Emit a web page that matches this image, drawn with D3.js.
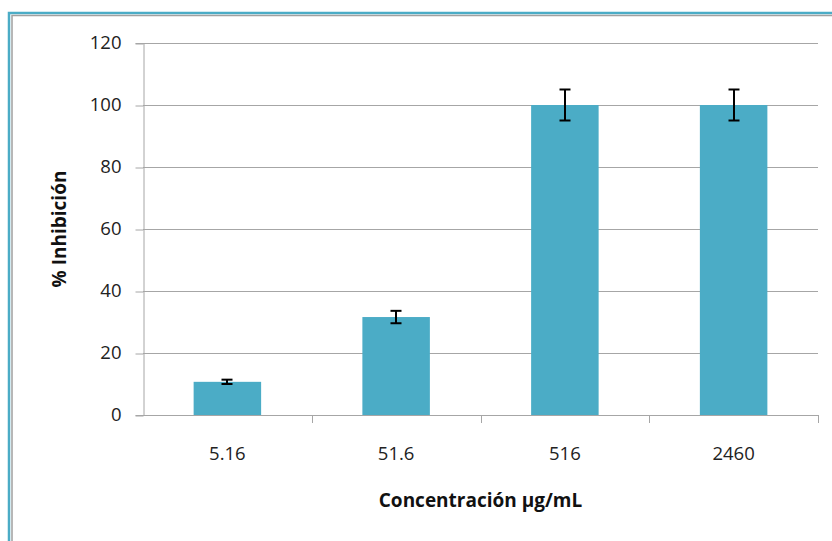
<!DOCTYPE html>
<html><head><meta charset="utf-8">
<script src="https://cdn.jsdelivr.net/npm/d3@7"></script>
<style>body{margin:0;background:#fff}svg{display:block}</style>
</head><body>
<script>
const categories = ["5.16", "51.6", "516", "2460"];
const values = [10.7, 31.6, 100, 100];
const errors = [0.7, 2.0, 5.0, 5.0];
const yTicks = [0, 20, 40, 60, 80, 100, 120];
const xTitle = "Concentración µg/mL";
const yTitle = "% Inhibición";

const W = 832, H = 541;
const svg = d3.select("body").append("svg").attr("width", W).attr("height", H);
const font = "'Open Sans', 'Liberation Sans', sans-serif";

// frame
svg.append("rect").attr("x", 9).attr("y", 13).attr("width", W).attr("height", H)
  .attr("fill", "none").attr("stroke", "#4BACC6").attr("stroke-width", 2.5);
svg.append("rect").attr("x", 12).attr("y", 15.5).attr("width", W).attr("height", H)
  .attr("fill", "none").attr("stroke", "#A0A0A0").attr("stroke-width", 1.5);

const x0 = 143, x1 = 818, yTop = 43, yBot = 415;
const x = d3.scaleBand().domain(categories).range([x0, x1]).padding(0);
const y = d3.scaleLinear().domain([0, 120]).range([yBot, yTop]);

// gridlines
svg.append("g").selectAll("line").data(yTicks.filter(d => d > 0)).join("line")
  .attr("x1", x0).attr("x2", x1).attr("y1", d => y(d) + 0.5).attr("y2", d => y(d) + 0.5)
  .attr("stroke", "#A6A6A6").attr("stroke-width", 1);

// y axis
const ya = svg.append("g").attr("transform", `translate(${x0 + 0.5},0)`)
  .call(d3.axisLeft(y).tickValues(yTicks).tickSize(8).tickPadding(14));
ya.select(".domain").attr("stroke", "#A6A6A6");
ya.selectAll(".tick line").attr("stroke", "#A6A6A6").attr("transform", "translate(0,0.5)");
ya.selectAll("text").attr("font-family", font).attr("font-size", 18.5).attr("fill", "#222");

// bars
const bw = x.bandwidth() * 0.4;
svg.append("g").selectAll("rect").data(categories).join("rect")
  .attr("x", d => x(d) + (x.bandwidth() - bw) / 2)
  .attr("width", bw)
  .attr("y", (d, i) => y(values[i]))
  .attr("height", (d, i) => yBot - y(values[i]))
  .attr("fill", "#4BACC6");

// x axis
const xa = svg.append("g").attr("transform", `translate(0,${yBot + 0.5})`)
  .call(d3.axisBottom(x).tickSize(0).tickPadding(31));
xa.select(".domain").attr("stroke", "#A6A6A6").attr("d", `M${x0},0H${x1}`);
xa.selectAll("text").attr("font-family", font).attr("font-size", 18.5).attr("fill", "#222");
svg.append("g").selectAll("line").data(categories.map((c, i) => x0 + x.step() * (i + 1))).join("line")
  .attr("x1", d => Math.round(d) + 0.5).attr("x2", d => Math.round(d) + 0.5)
  .attr("y1", yBot).attr("y2", yBot + 8).attr("stroke", "#A6A6A6");

// error bars
const eb = svg.append("g").attr("stroke", "#000").attr("stroke-width", 2);
categories.forEach((c, i) => {
  const cx = Math.round(x(c) + x.bandwidth() / 2);
  const hi = y(values[i] + errors[i]), lo = y(values[i] - errors[i]);
  eb.append("line").attr("x1", cx).attr("x2", cx).attr("y1", hi).attr("y2", lo);
  eb.append("line").attr("x1", cx - 5.5).attr("x2", cx + 5.5).attr("y1", hi).attr("y2", hi);
  eb.append("line").attr("x1", cx - 5.5).attr("x2", cx + 5.5).attr("y1", lo).attr("y2", lo);
});

// titles
svg.append("text").attr("x", (x0 + x1) / 2).attr("y", 507).attr("text-anchor", "middle")
  .attr("font-family", font).attr("font-weight", "bold").attr("font-size", 19).attr("fill", "#111")
  .text(xTitle);
svg.append("text").attr("transform", `translate(66,${(yTop + yBot) / 2}) rotate(-90)`)
  .attr("text-anchor", "middle")
  .attr("font-family", font).attr("font-weight", "bold").attr("font-size", 19).attr("fill", "#111")
  .text(yTitle);
</script>
</body></html>
